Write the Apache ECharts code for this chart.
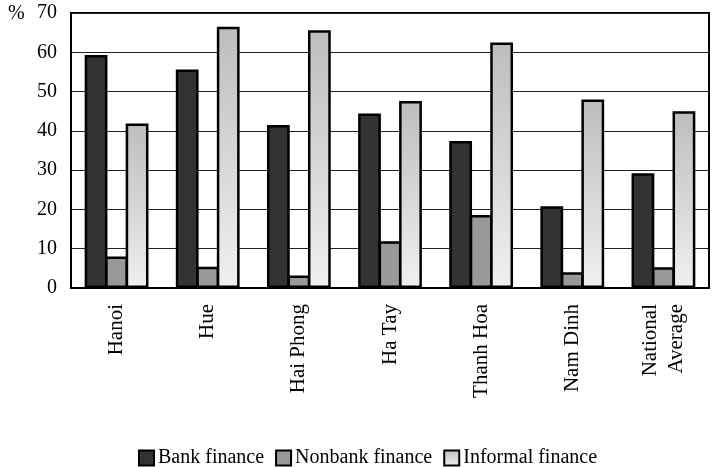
<!DOCTYPE html>
<html>
<head>
<meta charset="utf-8">
<script src="https://cdn.jsdelivr.net/npm/echarts@6/dist/echarts.min.js"></script>
<style>
html,body{margin:0;padding:0;background:#fff;}
#chart{width:713px;height:467px;}
</style>
</head>
<body>
<div id="chart"></div>
<script>
var categories = ['Hanoi', 'Hue', 'Hai Phong', 'Ha Tay', 'Thanh Hoa', 'Nam Dinh', 'National\nAverage'];
var bankFinance = [59.3, 55.6, 41.5, 44.4, 37.4, 20.8, 29.2];
var nonbankFinance = [8.0, 5.4, 3.2, 11.9, 18.6, 4.0, 5.3];
var informalFinance = [41.9, 66.5, 65.6, 47.6, 62.5, 48.0, 45.0];
var seriesNames = ['Bank finance', 'Nonbank finance', 'Informal finance'];
var yTicks = {min: 0, max: 70, interval: 10};

var FONT = '"Liberation Serif", "Times New Roman", serif';
var chart = echarts.init(document.getElementById('chart'), null, {renderer: 'canvas'});
var gradient = new echarts.graphic.LinearGradient(0, 0, 0, 1, [
  {offset: 0, color: '#bdbdbd'},
  {offset: 1, color: '#f0f0f0'}
]);
function mkSeries(name, data, color) {
  return {
    name: name,
    type: 'bar',
    data: data,
    barGap: '-10%',
    barCategoryGap: '30%',
    itemStyle: {color: color, borderColor: '#000', borderWidth: 2.5},
    emphasis: {disabled: true},
    animation: false
  };
}
chart.setOption({
  animation: false,
  backgroundColor: '#fff',
  textStyle: {fontFamily: FONT, color: '#000'},
  grid: {left: 71, right: 4, top: 13, bottom: 179, show: true, borderColor: '#000', borderWidth: 2, backgroundColor: 'transparent'},
  graphic: [{type: 'text', left: 8, top: 4, style: {text: '%', font: '20px ' + FONT, fill: '#000'}}],
  legend: {
    top: 443,
    left: 133,
    icon: 'rect',
    itemWidth: 15,
    itemHeight: 15,
    itemGap: 11,
    itemStyle: {borderColor: '#000', borderWidth: 2},
    textStyle: {fontFamily: FONT, fontSize: 20, color: '#000', padding: [0, 0, 0, -1]},
    data: seriesNames
  },
  xAxis: {
    type: 'category',
    data: categories,
    axisLine: {show: true, lineStyle: {color: '#000', width: 2}},
    axisTick: {show: false},
    axisLabel: {rotate: 90, margin: 16, fontFamily: FONT, fontSize: 21, color: '#000', lineHeight: 26}
  },
  yAxis: {
    type: 'value',
    min: yTicks.min,
    max: yTicks.max,
    interval: yTicks.interval,
    axisLine: {show: false},
    axisTick: {show: false},
    axisLabel: {margin: 14, fontFamily: FONT, fontSize: 20, color: '#000'},
    splitLine: {show: true, lineStyle: {color: '#222', width: 1}}
  },
  series: [
    mkSeries(seriesNames[0], bankFinance, '#333333'),
    mkSeries(seriesNames[1], nonbankFinance, '#999999'),
    mkSeries(seriesNames[2], informalFinance, gradient)
  ]
});
</script>
</body>
</html>
